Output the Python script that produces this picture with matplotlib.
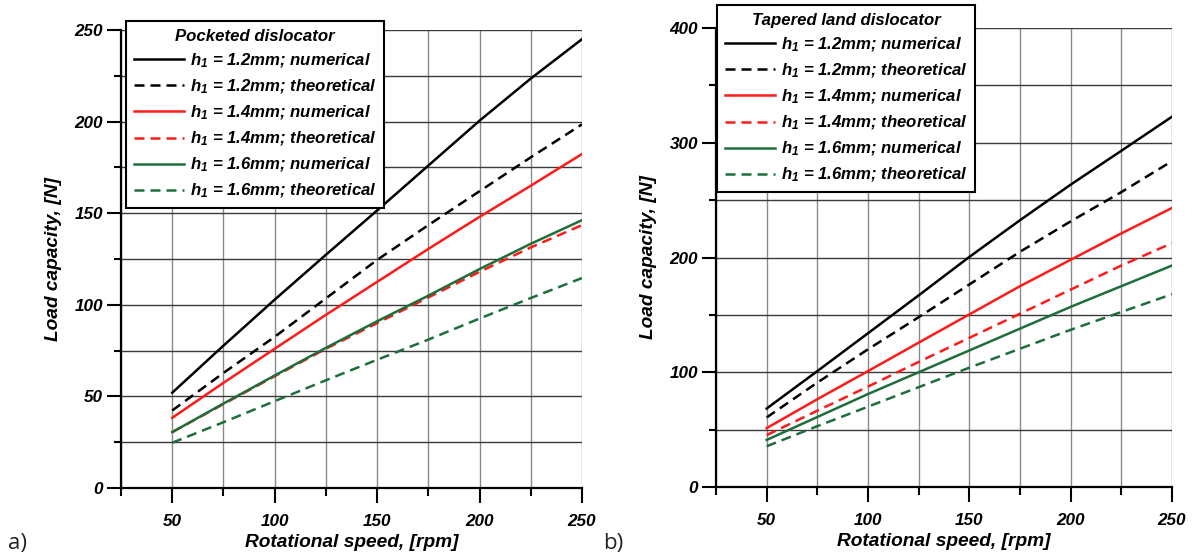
import matplotlib
matplotlib.use('Agg')
import matplotlib.pyplot as plt
from matplotlib.ticker import MultipleLocator

plt.rcParams['font.family'] = ['Liberation Sans', 'DejaVu Sans']
plt.rcParams['font.weight'] = 'bold'
plt.rcParams['font.style'] = 'italic'
plt.rcParams['axes.labelweight'] = 'bold'
plt.rcParams['mathtext.fontset'] = 'custom'
plt.rcParams['mathtext.rm'] = 'Liberation Sans:bold:italic'
plt.rcParams['mathtext.it'] = 'Liberation Sans:bold:italic'
plt.rcParams['mathtext.bf'] = 'Liberation Sans:bold:italic'

# rotational speed, rpm
speed = [50, 75, 100, 125, 150, 175, 200, 225, 250]

# a) pocketed dislocator, load capacity [N]
pock_12_num = [52, 77.7, 102.8, 127.3, 151.5, 176, 200.5, 223.5, 245]
pock_12_th = [42.3, 62.8, 82.5, 103.5, 124.5, 143.5, 162, 180.5, 198.5]
pock_14_num = [38.3, 57.4, 76, 94.5, 112.5, 130.5, 148, 165, 182.3]
pock_14_th = [30.5, 45.8, 61, 76, 90, 104, 118, 131.3, 143.5]
pock_16_num = [30.5, 46.1, 61.4, 76.5, 91, 105, 119.5, 133.3, 146.2]
pock_16_th = [24.7, 35.9, 47.4, 58.8, 70, 81, 92.5, 103.7, 114.6]

# b) tapered land dislocator, load capacity [N]
tap_12_num = [68.4, 101, 134, 167, 200.5, 232.5, 263.5, 293, 322.7]
tap_12_th = [60.6, 91, 120, 148, 176.5, 205, 231.5, 257, 284]
tap_14_num = [51.3, 76.5, 101, 125.8, 150.4, 175, 198, 221, 243.2]
tap_14_th = [45.2, 66.5, 87.5, 109, 130, 151, 172, 193, 212.5]
tap_16_num = [41, 61, 81, 100, 119, 138, 157, 175, 193]
tap_16_th = [35.5, 53, 70, 87, 104, 120.5, 137, 152.5, 168]

labels = ['h$_{1}$ = 1.2mm; numerical', 'h$_{1}$ = 1.2mm; theoretical',
          'h$_{1}$ = 1.4mm; numerical', 'h$_{1}$ = 1.4mm; theoretical',
          'h$_{1}$ = 1.6mm; numerical', 'h$_{1}$ = 1.6mm; theoretical']
colors = ['black', 'black', '#ff1a1a', '#ff1a1a', '#1e6e3c', '#1e6e3c']
dashed = (0, (4, 2.4))
styles = ['-', dashed, '-', dashed, '-', dashed]

fig = plt.figure(figsize=(11.92, 5.56), dpi=100)
ax1 = fig.add_axes([121/1192, 1-488/556, (582-121)/1192, (488-30)/556])
ax2 = fig.add_axes([716/1192, 1-487/556, (1172-716)/1192, (487-28)/556])


def style_axes(ax, ymax, ystep):
    ax.set_xlim(25, 250)
    ax.set_ylim(0, ymax)
    ax.xaxis.set_major_locator(MultipleLocator(50))
    ax.xaxis.set_minor_locator(MultipleLocator(25))
    ax.yaxis.set_major_locator(MultipleLocator(ystep))
    ax.yaxis.set_minor_locator(MultipleLocator(ystep / 2))
    ax.set_xticks([50, 100, 150, 200, 250])
    for x in range(25, 251, 25):
        ax.axvline(x, color='#8a8a8a', lw=1.0, zorder=0)
    for y in range(0, ymax + 1, 25 if ymax == 250 else 50):
        ax.axhline(y, color='#3a3a3a', lw=1.0, zorder=0)
    ax.spines['top'].set_visible(False)
    ax.spines['right'].set_visible(False)
    ax.spines['left'].set_linewidth(1.6)
    ax.spines['bottom'].set_linewidth(1.6)
    ax.tick_params(axis='y', which='major', length=10, width=1.5, pad=3, labelsize=12.3)
    ax.tick_params(axis='y', which='minor', length=5, width=1.5)
    ax.tick_params(axis='x', which='major', length=11, width=1.5, pad=8, labelsize=12.3)
    ax.tick_params(axis='x', which='minor', length=6, width=1.5)
    ax.set_xlabel('Rotational speed, [rpm]', fontsize=13.8, labelpad=3.5)
    ax.set_ylabel('Load capacity, [N]', fontsize=13.8, labelpad=9)


series1 = [pock_12_num, pock_12_th, pock_14_num, pock_14_th, pock_16_num, pock_16_th]
series2 = [tap_12_num, tap_12_th, tap_14_num, tap_14_th, tap_16_num, tap_16_th]

for ax, series, ymax, ystep in [(ax1, series1, 250, 50), (ax2, series2, 400, 100)]:
    style_axes(ax, ymax, ystep)
    for vals, c, ls, lab in zip(series, colors, styles, labels):
        ax.plot(speed, vals, color=c, linestyle=ls, lw=1.8, label=lab, zorder=3)

for ax, title, anchor in [(ax1, 'Pocketed dislocator', (126/1192, 1-21/556)),
                          (ax2, 'Tapered land dislocator', (717/1192, 1-5/556))]:
    leg = ax.legend(title=title, loc='upper left', bbox_to_anchor=anchor,
                    bbox_transform=fig.transFigure, fontsize=12.1,
                    title_fontsize=12.1, fancybox=False, framealpha=1,
                    edgecolor='black', handlelength=3.0, handletextpad=0.35,
                    labelspacing=0.46, borderpad=0.45, borderaxespad=0)
    leg.get_frame().set_linewidth(1.5)
    leg.get_title().set_fontweight('bold')
    leg.get_title().set_fontstyle('italic')
    leg.set_zorder(5)

fig.text(8/1192, 1-543/556, 'a)', fontsize=16, family='Open Sans',
         weight='normal', style='normal', color='#222222', va='center')
fig.text(603/1192, 1-543/556, 'b)', fontsize=16, family='Open Sans',
         weight='normal', style='normal', color='#222222', va='center')

fig.savefig('out.png', dpi=100)
